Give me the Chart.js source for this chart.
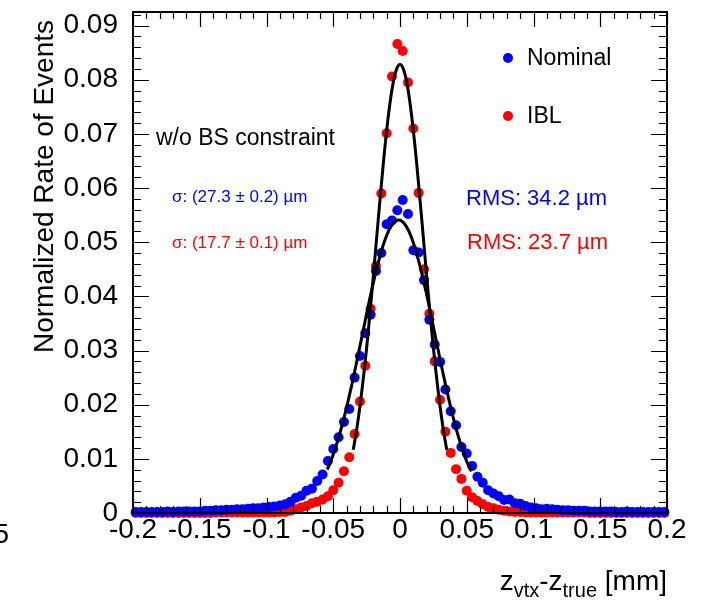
<!DOCTYPE html>
<html>
<head>
<meta charset="utf-8">
<script src="https://cdn.jsdelivr.net/npm/chart.js@4.4.1/dist/chart.umd.min.js"></script>
<style>
  html, body { margin: 0; padding: 0; background: #fff; }
  #wrap { width: 717px; height: 602px; }
</style>
</head>
<body>
<div id="wrap"><canvas id="vtxChart" width="717" height="602"></canvas></div>
<script>
// bin centres of z_vtx - z_true [mm]
var binCenters = [
  -0.198, -0.194, -0.190, -0.186, -0.182, -0.178, -0.174, -0.170, -0.166, -0.162,
  -0.158, -0.154, -0.150, -0.146, -0.142, -0.138, -0.134, -0.130, -0.126, -0.122,
  -0.118, -0.114, -0.110, -0.106, -0.102, -0.098, -0.094, -0.090, -0.086, -0.082,
  -0.078, -0.074, -0.070, -0.066, -0.062, -0.058, -0.054, -0.050, -0.046, -0.042,
  -0.038, -0.034, -0.030, -0.026, -0.022, -0.018, -0.014, -0.010, -0.006, -0.002,
   0.002,  0.006,  0.010,  0.014,  0.018,  0.022,  0.026,  0.030,  0.034,  0.038,
   0.042,  0.046,  0.050,  0.054,  0.058,  0.062,  0.066,  0.070,  0.074,  0.078,
   0.082,  0.086,  0.090,  0.094,  0.098,  0.102,  0.106,  0.110,  0.114,  0.118,
   0.122,  0.126,  0.130,  0.134,  0.138,  0.142,  0.146,  0.150,  0.154,  0.158,
   0.162,  0.166,  0.170,  0.174,  0.178,  0.182,  0.186,  0.190,  0.194,  0.198
];

var nominalRate = [
  0.0002, 0.0002, 0.0002, 0.0002, 0.0002, 0.0002, 0.0003, 0.0002, 0.0003, 0.0003,
  0.0003, 0.0003, 0.0003, 0.0004, 0.0004, 0.0005, 0.0005, 0.0006, 0.0006, 0.0007,
  0.0007, 0.0008, 0.0009, 0.0009, 0.0010, 0.0011, 0.0012, 0.0014, 0.0016, 0.0021,
  0.0028, 0.0032, 0.0041, 0.0045, 0.0059, 0.0071, 0.0096, 0.0118, 0.0140, 0.0168,
  0.0192, 0.0250, 0.0290, 0.0332, 0.0366, 0.0447, 0.0480, 0.0533, 0.0540, 0.0559,
  0.0578, 0.0552, 0.0485, 0.0481, 0.0430, 0.0357, 0.0311, 0.0279, 0.0228, 0.0188,
  0.0162, 0.0122, 0.0110, 0.0087, 0.0067, 0.0056, 0.0042, 0.0036, 0.0031, 0.0024,
  0.0025, 0.0018, 0.0017, 0.0013, 0.0010, 0.0009, 0.0007, 0.0008, 0.0007, 0.0006,
  0.0005, 0.0005, 0.0004, 0.0004, 0.0004, 0.0003, 0.0003, 0.0003, 0.0003, 0.0003,
  0.0002, 0.0002, 0.0003, 0.0002, 0.0002, 0.0002, 0.0002, 0.0002, 0.0002, 0.0002
];

var iblRate = [
  0.0000, 0.0000, 0.0000, 0.0000, 0.0000, 0.0000, 0.0000, 0.0000, 0.0000, 0.0000,
  0.0000, 0.0000, 0.0000, 0.0000, 0.0000, 0.0001, 0.0001, 0.0001, 0.0001, 0.0001,
  0.0001, 0.0001, 0.0001, 0.0001, 0.0001, 0.0001, 0.0001, 0.0002, 0.0002, 0.0004,
  0.0007, 0.0010, 0.0013, 0.0018, 0.0021, 0.0025, 0.0031, 0.0042, 0.0056, 0.0077,
  0.0103, 0.0146, 0.0206, 0.0272, 0.0377, 0.0456, 0.0590, 0.0701, 0.0806, 0.0866,
  0.0853, 0.0795, 0.0710, 0.0591, 0.0450, 0.0368, 0.0280, 0.0209, 0.0150, 0.0111,
  0.0081, 0.0063, 0.0041, 0.0029, 0.0022, 0.0016, 0.0011, 0.0009, 0.0006, 0.0004,
  0.0003, 0.0002, 0.0002, 0.0001, 0.0001, 0.0001, 0.0001, 0.0001, 0.0001, 0.0001,
  0.0001, 0.0001, 0.0001, 0.0001, 0.0001, 0.0000, 0.0000, 0.0000, 0.0000, 0.0000,
  0.0000, 0.0000, 0.0000, 0.0000, 0.0000, 0.0000, 0.0000, 0.0000, 0.0000, 0.0000
];

// gaussian fit curves
var nominalFitX = [-0.0545, -0.051, -0.046, -0.041, -0.036, -0.031, -0.026, -0.021, -0.016, -0.011, -0.006, -0.001,
                   0.004, 0.009, 0.014, 0.019, 0.024, 0.029, 0.034, 0.039, 0.044, 0.049, 0.0535];
var nominalFitY = [0.0080, 0.0101, 0.0139, 0.0185, 0.0238, 0.0296, 0.0356, 0.0414, 0.0465, 0.0506, 0.0532, 0.0541,
                   0.0532, 0.0506, 0.0465, 0.0414, 0.0356, 0.0296, 0.0238, 0.0185, 0.0139, 0.0101, 0.0077];

var iblFitX = [-0.035, -0.0325, -0.030, -0.0275, -0.025, -0.0225, -0.020, -0.0175, -0.015, -0.0125, -0.010, -0.0075, -0.005, -0.0025,
               0, 0.0025, 0.005, 0.0075, 0.010, 0.0125, 0.015, 0.0175, 0.020, 0.0225, 0.025, 0.0275, 0.030, 0.0325, 0.035];
var iblFitY = [0.0117, 0.0153, 0.0197, 0.0248, 0.0305, 0.0369, 0.0437, 0.0508, 0.0578, 0.0645, 0.0706, 0.0757, 0.0796, 0.0820,
               0.0828, 0.0820, 0.0796, 0.0757, 0.0706, 0.0645, 0.0578, 0.0508, 0.0437, 0.0369, 0.0305, 0.0248, 0.0197, 0.0153, 0.0117];

var xTickValues = [-0.2, -0.15, -0.1, -0.05, 0, 0.05, 0.1, 0.15, 0.2];
var xTickLabels = ['-0.2', '-0.15', '-0.1', '-0.05', '0', '0.05', '0.1', '0.15', '0.2'];
var yTickValues = [0, 0.01, 0.02, 0.03, 0.04, 0.05, 0.06, 0.07, 0.08, 0.09];
var yTickLabels = ['0', '0.01', '0.02', '0.03', '0.04', '0.05', '0.06', '0.07', '0.08', '0.09'];

var FONT = "'Liberation Sans', Arial, Helvetica, sans-serif";

function toPoints(xs, ys) {
  var pts = [];
  for (var i = 0; i < xs.length; i++) pts.push({ x: xs[i], y: ys[i] });
  return pts;
}

function drawRuns(ctx, xRight, baseline, runs) {
  var total = 0;
  runs.forEach(function (r) {
    ctx.font = r.size + 'px ' + FONT;
    r.w = ctx.measureText(r.t).width;
    total += r.w;
  });
  var x = xRight - total;
  ctx.textAlign = 'left';
  ctx.textBaseline = 'alphabetic';
  runs.forEach(function (r) {
    ctx.font = r.size + 'px ' + FONT;
    ctx.fillText(r.t, x, baseline + (r.dy || 0));
    x += r.w;
  });
}

// ROOT style frame: inward ticks on all four sides + labels
var rootFrame = {
  id: 'rootFrame',
  afterDraw: function (chart) {
    var ctx = chart.ctx, a = chart.chartArea;
    var xs = chart.scales.x, ys = chart.scales.y;
    ctx.save();
    ctx.strokeStyle = '#000';
    ctx.lineWidth = 1.2;
    ctx.beginPath();
    for (var k = -20; k <= 20; k++) {
      var px = Math.round(xs.getPixelForValue(k / 100)) + 0.5;
      var len = (k % 5 === 0) ? 15 : 7;
      ctx.moveTo(px, a.bottom); ctx.lineTo(px, a.bottom - len);
      ctx.moveTo(px, a.top); ctx.lineTo(px, a.top + len);
    }
    for (var j = 0; j <= 46; j++) {
      var v = j * 0.002;
      if (v > ys.max) break;
      var py = Math.round(ys.getPixelForValue(v)) + 0.5;
      var l = (j % 5 === 0) ? 16 : 8;
      ctx.moveTo(a.left, py); ctx.lineTo(a.left + l, py);
      ctx.moveTo(a.right, py); ctx.lineTo(a.right - l, py);
    }
    ctx.stroke();
    ctx.lineWidth = 2;
    ctx.strokeRect(a.left, a.top, a.right - a.left, a.bottom - a.top);

    // axis titles
    ctx.fillStyle = '#000';
    ctx.save();
    ctx.translate(53, 20);
    ctx.rotate(-Math.PI / 2);
    ctx.font = '28px ' + FONT;
    ctx.textAlign = 'right';
    ctx.textBaseline = 'alphabetic';
    ctx.fillText('Normalized Rate of Events', 0, 0);
    ctx.restore();

    drawRuns(ctx, 667, 590, [
      { t: 'z', size: 28 }, { t: 'vtx', size: 20, dy: 7 },
      { t: '-z', size: 28 }, { t: 'true', size: 20, dy: 7 },
      { t: ' [mm]', size: 28 }
    ]);

    // stray label of the neighbouring pad
    ctx.font = '28px ' + FONT;
    ctx.textAlign = 'right';
    ctx.fillText('5', 9, 543);

    // legend
    ctx.fillStyle = '#0000ff';
    ctx.beginPath(); ctx.arc(508, 58, 5, 0, Math.PI * 2); ctx.fill();
    ctx.fillStyle = '#ff0000';
    ctx.beginPath(); ctx.arc(508, 116, 5, 0, Math.PI * 2); ctx.fill();
    ctx.fillStyle = '#000';
    ctx.font = '23px ' + FONT;
    ctx.textAlign = 'left';
    ctx.textBaseline = 'middle';
    ctx.fillText('Nominal', 527, 59);
    ctx.fillText('IBL', 527, 117);

    // annotations
    ctx.fillText('w/o BS constraint', 156, 139);
    ctx.font = '17px ' + FONT;
    ctx.fillStyle = '#0000ff';
    ctx.fillText('\u03c3: (27.3 \u00b1 0.2) \u00b5m', 172, 197);
    ctx.fillStyle = '#ff0000';
    ctx.fillText('\u03c3: (17.7 \u00b1 0.1) \u00b5m', 172, 243);
    ctx.font = '22px ' + FONT;
    ctx.fillStyle = '#0000ff';
    ctx.fillText('RMS: 34.2 \u00b5m', 466, 199);
    ctx.fillStyle = '#ff0000';
    ctx.fillText('RMS: 23.7 \u00b5m', 467, 243);
    ctx.restore();
  }
};

var ctx = document.getElementById('vtxChart').getContext('2d');
new Chart(ctx, {
  type: 'scatter',
  data: {
    datasets: [
      {
        label: 'IBL fit',
        data: toPoints(iblFitX, iblFitY),
        showLine: true, pointRadius: 0, borderColor: '#000', borderWidth: 3,
        tension: 0.4, order: 1
      },
      {
        label: 'Nominal fit',
        data: toPoints(nominalFitX, nominalFitY),
        showLine: true, pointRadius: 0, borderColor: '#000', borderWidth: 3,
        tension: 0.4, order: 1
      },
      {
        label: 'Nominal',
        data: toPoints(binCenters, nominalRate),
        pointRadius: 5, pointBackgroundColor: '#0000ff', pointBorderWidth: 0,
        borderColor: '#0000ff', order: 2, clip: false
      },
      {
        label: 'IBL',
        data: toPoints(binCenters, iblRate),
        pointRadius: 5, pointBackgroundColor: '#ff0000', pointBorderWidth: 0,
        borderColor: '#ff0000', order: 3, clip: false
      }
    ]
  },
  options: {
    responsive: false,
    animation: false,
    devicePixelRatio: 1,
    layout: { padding: { left: 0, top: 12, right: 50, bottom: 0 } },
    plugins: { legend: { display: false }, tooltip: { enabled: false } },
    scales: {
      x: {
        type: 'linear', min: -0.2, max: 0.2,
        grid: { display: false }, border: { display: false },
        afterBuildTicks: function (scale) {
          scale.ticks = xTickValues.map(function (v) { return { value: v }; });
        },
        afterFit: function (scale) {
          scale.height = 89;
          scale.paddingLeft = 0; scale.paddingRight = 0;
        },
        ticks: {
          autoSkip: false, maxRotation: 0, minRotation: 0, padding: -8,
          color: '#000', font: { family: FONT, size: 28 },
          callback: function (value, index) { return xTickLabels[index]; }
        }
      },
      y: {
        type: 'linear', min: 0, max: 0.0925,
        grid: { display: false }, border: { display: false },
        afterBuildTicks: function (scale) {
          scale.ticks = yTickValues.map(function (v) { return { value: v }; });
        },
        afterFit: function (scale) {
          scale.width = 133;
          scale.paddingTop = 0; scale.paddingBottom = 0;
        },
        ticks: {
          autoSkip: false, padding: 7,
          color: '#000', font: { family: FONT, size: 28 },
          callback: function (value, index) { return yTickLabels[index]; }
        }
      }
    }
  },
  plugins: [rootFrame]
});
</script>
</body>
</html>
